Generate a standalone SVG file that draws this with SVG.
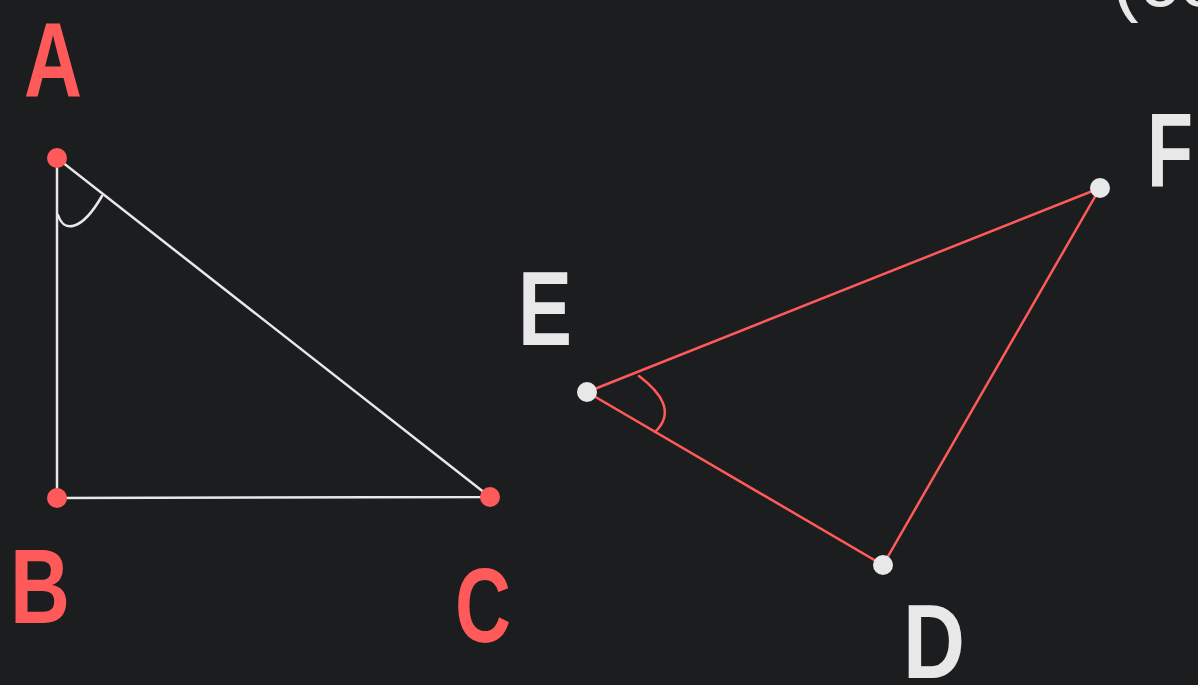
<svg xmlns="http://www.w3.org/2000/svg" width="1198" height="685" viewBox="0 0 1198 685">
<style>
.lbl{font-family:"Liberation Sans","DejaVu Sans",sans-serif;font-size:106px;font-weight:bold;text-anchor:middle}
.red{fill:#ff5a5a}
.wht{fill:#e8e8e8}
.lw{stroke:#e8e8e8;stroke-width:2.5;fill:none;stroke-linecap:round}
.lr{stroke:#ff5a5a;stroke-width:2.5;fill:none;stroke-linecap:round}
</style>
<rect width="1198" height="685" fill="#1c1d1f"/>
<g id="connectors">
<path class="lw" d="M57,158 L57,498 L490,497 Z"/>
<path class="lw" d="M58,215 C63,231 80,234 102,196"/>
<path class="lr" d="M587,392 L1100,188 L883,565 Z"/>
<path class="lr" d="M639,376 C660,392 676,412 655,432"/>
</g>
<g id="node-A"><circle cx="57" cy="158" r="10" class="red"/><text x="53" y="97" class="lbl red" textLength="58" lengthAdjust="spacingAndGlyphs">A</text></g>
<g id="node-B"><circle cx="57" cy="498" r="10" class="red"/><text x="40" y="623" class="lbl red" textLength="60" lengthAdjust="spacingAndGlyphs">B</text></g>
<g id="node-C"><circle cx="490" cy="497" r="10" class="red"/><text x="483" y="642" class="lbl red" textLength="56" lengthAdjust="spacingAndGlyphs">C</text></g>
<g id="node-E"><circle cx="587" cy="392" r="10" class="wht"/><text x="545" y="345" class="lbl wht" textLength="54" lengthAdjust="spacingAndGlyphs">E</text></g>
<g id="node-F"><circle cx="1100" cy="188" r="10" class="wht"/><text x="1170" y="187" class="lbl wht" textLength="46" lengthAdjust="spacingAndGlyphs">F</text></g>
<g id="node-D"><circle cx="883" cy="565" r="10" class="wht"/><text x="934" y="678" class="lbl wht" textLength="62" lengthAdjust="spacingAndGlyphs">D</text></g>
<text x="1112" y="6" font-family="Liberation Sans, sans-serif" font-size="80" fill="#e8e8e8">(co</text>
</svg>
